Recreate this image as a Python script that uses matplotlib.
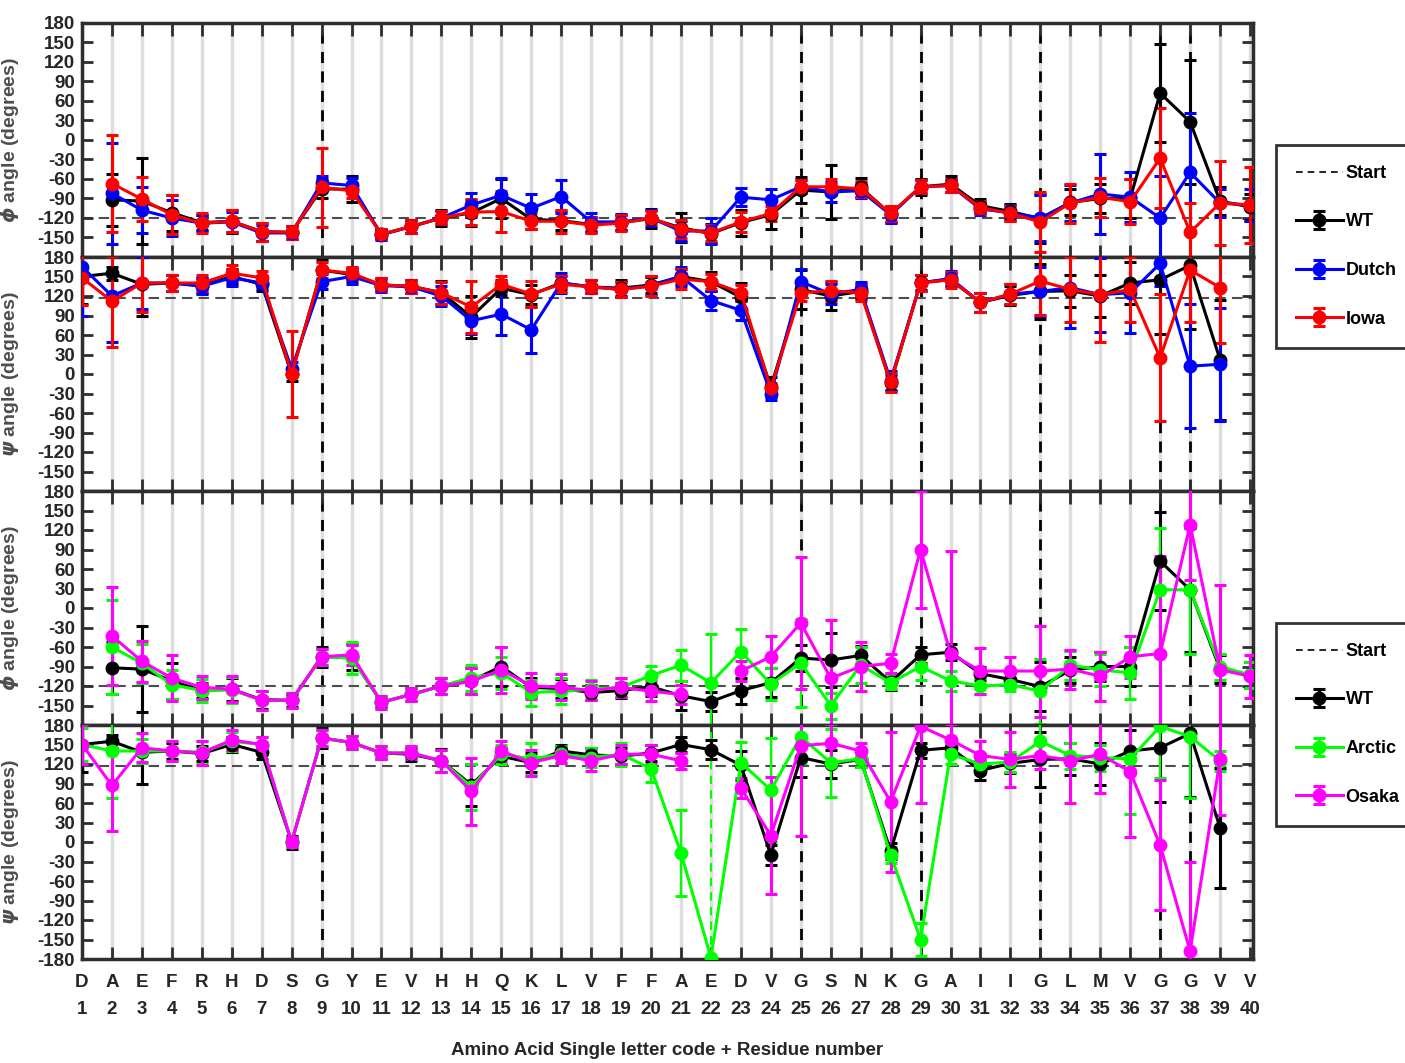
import numpy as np
import matplotlib.pyplot as plt
from matplotlib.lines import Line2D

plt.rcParams['font.family'] = ['Liberation Sans', 'DejaVu Sans']
plt.rcParams['font.weight'] = 'bold'

nan = np.nan

# residue axis
residues = list(range(1, 41))
letters = list("DAEFRHDSGYEVHHQKLVFFAEDVGSNKGAIIGLMVGGVV")
tick_labels = [f"{c}\n{n}" for c, n in zip(letters, residues)]
gly_res = [n for c, n in zip(letters, residues) if c == "G"]

phi_start = -120
psi_start = 117

# WT
wt_phi = [nan, -92, -94, -112, -127, -125, -141, -142, -75, -76, -145, -133, -120, -112, -90, -122, -124, -130, -127, -121,
          -135, -144, -127, -115, -77, -80, -73, -114, -72, -68, -101, -110, -121, -96, -90, -90, 72, 28, -94, -103]
wt_phi_err = [nan, 40, 66, 28, 12, 18, 14, 10, 15, 20, 8, 10, 12, 20, 30, 15, 15, 12, 12, 15,
              22, 15, 20, 22, 20, 42, 15, 12, 12, 12, 10, 12, 38, 20, 22, 30, 75, 95, 22, 20]
wt_psi = [150, 155, 138, 140, 136, 150, 138, 0, 160, 153, 137, 135, 125, 88, 132, 122, 140, 134, 132, 137,
          150, 142, 118, -20, 130, 120, 127, -14, 141, 145, 110, 121, 127, 128, 120, 140, 145, 167, 22, nan]
wt_psi_err = [42, 10, 48, 12, 12, 12, 10, 10, 15, 10, 10, 10, 18, 32, 12, 15, 10, 10, 12, 12,
              12, 15, 22, 15, 30, 22, 12, 12, 12, 10, 15, 15, 42, 25, 32, 32, 83, 98, 92, nan]

# Dutch
dutch_phi = [nan, -82, -108, -120, -128, -126, -143, -143, -66, -70, -146, -133, -120, -100, -85, -105, -87, -126, -126, -120,
             -140, -140, -88, -92, -72, -80, -78, -115, -72, -70, -106, -112, -120, -97, -83, -88, -120, -50, -97, -100]
dutch_phi_err = [nan, 78, 35, 27, 12, 15, 12, 10, 10, 12, 8, 10, 10, 18, 27, 22, 25, 14, 12, 12,
                 15, 20, 14, 16, 10, 15, 12, 12, 10, 10, 10, 12, 36, 28, 62, 38, 65, 92, 22, 25]
dutch_psi = [165, 120, 140, 140, 135, 148, 140, 8, 142, 150, 136, 134, 120, 82, 92, 68, 140, 134, 130, 136,
             150, 113, 98, -30, 142, 123, 130, -10, 140, 147, 110, 123, 127, 133, 122, 125, 170, 12, 15, nan]
dutch_psi_err = [75, 70, 40, 12, 12, 12, 10, 10, 12, 12, 10, 10, 15, 20, 32, 35, 15, 10, 12, 15,
                 15, 15, 15, 10, 20, 15, 12, 15, 12, 12, 15, 15, 38, 62, 57, 62, 35, 95, 87, nan]

# Iowa
iowa_phi = [nan, -67, -91, -115, -128, -125, -141, -142, -73, -78, -145, -133, -120, -111, -110, -125, -125, -131, -128, -120,
            -137, -143, -126, -113, -72, -72, -75, -113, -72, -70, -104, -113, -126, -97, -88, -95, -28, -142, -97, -100]
iowa_phi_err = [nan, 75, 34, 30, 15, 17, 14, 10, 61, 12, 8, 10, 10, 20, 32, 12, 18, 12, 12, 10,
                14, 12, 15, 12, 10, 12, 12, 12, 10, 10, 10, 12, 46, 30, 30, 35, 77, 45, 65, 58]
iowa_psi = [148, 112, 140, 140, 140, 155, 148, 0, 160, 155, 137, 135, 125, 103, 138, 123, 138, 134, 130, 135,
            146, 142, 125, -22, 125, 128, 125, -13, 140, 145, 110, 123, 143, 130, 122, 130, 25, 160, 133, nan]
iowa_psi_err = [42, 70, 45, 12, 12, 12, 10, 66, 12, 10, 10, 10, 17, 40, 12, 20, 12, 10, 12, 15,
                15, 12, 12, 8, 12, 15, 12, 15, 12, 12, 15, 15, 52, 50, 72, 50, 98, 80, 85, nan]

# Arctic
arctic_phi = [nan, -60, -85, -118, -127, -126, -142, -142, -75, -77, -145, -133, -120, -107, -100, -130, -128, -125, -122, -104,
              -88, -115, -67, -117, -85, -150, -88, -115, -90, -112, -120, -118, -128, -88, -95, -100, 28, 28, -90, -103]
arctic_phi_err = [nan, 73, 30, 22, 18, 20, 15, 12, 12, 24, 10, 10, 12, 20, 25, 20, 20, 15, 15, 15,
                  24, 75, 35, 25, 68, 20, 28, 10, 20, 15, 12, 10, 50, 22, 25, 40, 95, 98, 20, 20]
arctic_psi = [150, 140, 140, 140, 138, 155, 150, 0, 160, 153, 137, 137, 125, 85, 135, 128, 135, 130, 135, 113,
              -17, -178, 122, 80, 162, 122, 128, -20, -150, 135, 120, 123, 155, 133, 130, 128, 178, 162, 125, nan]
arctic_psi_err = [25, 73, 18, 15, 18, 15, 12, 8, 12, 10, 10, 10, 17, 35, 15, 25, 12, 15, 18, 20,
                  66, 0, 32, 80, 40, 52, 12, 12, 25, 15, 15, 15, 30, 20, 20, 85, 80, 95, 15, nan]
arctic_wrap_res = [22]

# Osaka
osaka_phi = [nan, -43, -82, -108, -122, -125, -142, -142, -75, -72, -145, -133, -120, -113, -95, -120, -122, -127, -122, -128,
             -133, nan, -97, -75, -23, -108, -90, -85, 90, -70, -97, -97, -97, -94, -105, -75, -70, 128, -95, -105]
osaka_phi_err = [nan, 75, 32, 35, 18, 20, 15, 12, 12, 15, 10, 10, 12, 20, 35, 20, 20, 15, 15, 15,
                 15, nan, 15, 32, 102, 90, 37, 15, 90, 158, 35, 22, 70, 30, 38, 32, 150, 85, 130, 33]
osaka_psi = [150, 87, 145, 140, 137, 157, 150, 0, 160, 153, 137, 137, 125, 78, 140, 122, 133, 125, 135, 135,
             125, nan, 83, 10, 148, 152, 140, 62, 178, 157, 133, 127, 133, 125, 135, 108, -5, -168, 127, nan]
osaka_psi_err = [30, 70, 22, 15, 18, 15, 12, 8, 12, 10, 10, 10, 17, 52, 15, 20, 12, 15, 15, 15,
                 12, nan, 15, 90, 138, 30, 12, 108, 118, 25, 22, 42, 20, 65, 60, 100, 100, 138, 86, nan]

panels = [
    ("phi", phi_start, [("WT", "black", wt_phi, wt_phi_err), ("Dutch", "blue", dutch_phi, dutch_phi_err),
                        ("Iowa", "red", iowa_phi, iowa_phi_err)]),
    ("psi", psi_start, [("WT", "black", wt_psi, wt_psi_err), ("Dutch", "blue", dutch_psi, dutch_psi_err),
                        ("Iowa", "red", iowa_psi, iowa_psi_err)]),
    ("phi", phi_start, [("WT", "black", wt_phi, wt_phi_err), ("Arctic", "#00ff00", arctic_phi, arctic_phi_err),
                        ("Osaka", "magenta", osaka_phi, osaka_phi_err)]),
    ("psi", psi_start, [("WT", "black", wt_psi, wt_psi_err), ("Arctic", "#00ff00", arctic_psi, arctic_psi_err),
                        ("Osaka", "magenta", osaka_psi, osaka_psi_err)]),
]

W, H = 1405, 1063
fig = plt.figure(figsize=(W / 100, H / 100), dpi=100)
spine_c = "0.18"
tops = [23, 257, 491, 725]
ph = 234
for i, (kind, start, series) in enumerate(panels):
    ax = fig.add_axes([82 / W, 1 - (tops[i] + ph) / H, 1171 / W, ph / H])
    for r in residues:
        ax.axvline(r, color="#dedede", lw=2.5, zorder=0)
    for g in gly_res:
        ax.axvline(g, color="black", lw=2, ls=(0, (4, 3)), zorder=1)
    ax.axhline(start, color="0.3", lw=1.5, ls=(0, (5, 3)), zorder=1)
    if i == 3:
        for r in arctic_wrap_res:
            ax.axvline(r, color="#00ff00", lw=1.5, ls=(0, (4, 3)), zorder=2)
    handles = [Line2D([], [], color="black", lw=1.2, ls=(0, (4, 3)))]
    for name, col, vals, errs in series:
        thin = name == "Arctic"
        h = ax.errorbar(residues, vals, yerr=errs, color=col, lw=2.2, marker="o", ms=9,
                        elinewidth=1.6 if thin else 2.2, capsize=4, capthick=2.2, zorder=3)
        handles.append(h)
    ax.set_xlim(1, 40.1)
    ax.set_ylim(-180, 180)
    ticks = list(range(-180, 181, 30))
    ax.set_yticks(ticks)
    ax.set_yticklabels([str(t) if (t > -180 or i == 3) else "" for t in ticks])
    ax.set_xticks(residues)
    if i == 3:
        ax.set_xticklabels(tick_labels, linespacing=1.75)
        ax.set_xlabel("Amino Acid Single letter code + Residue number", fontsize=13.5, fontweight="bold",
                      color="0.15", labelpad=17)
    else:
        ax.set_xticklabels([])
    ax.tick_params(axis="both", direction="in", top=True, right=True, width=2, color=spine_c,
                   labelsize=13.5, labelcolor="0.15")
    ax.tick_params(axis="x", length=9, pad=11)
    ax.tick_params(axis="y", length=8, pad=5)
    for s in ax.spines.values():
        s.set_linewidth(2.5)
        s.set_color(spine_c)
    sym = r"$\phi$" if kind == "phi" else r"$\psi$"
    ax.set_ylabel(sym + " angle (degrees)", fontsize=14, fontweight="bold", color="0.3")
    ax.yaxis.set_label_coords(-0.052, 0.5)

    if i in (0, 2):
        labels = ["Start"] + [s[0] for s in series]
        lg = ax.legend(handles, labels, loc="upper left",
                       bbox_to_anchor=(1276 / W, 1 - (145 if i == 0 else 623) / H),
                       bbox_transform=fig.transFigure, fontsize=13, frameon=True, fancybox=False,
                       edgecolor="black", borderpad=1.1, labelspacing=1.75, handlelength=2.6,
                       handletextpad=0.15, borderaxespad=0)
        lg.get_frame().set_linewidth(2)
        for t in lg.get_texts():
            t.set_fontweight("bold")

fig.savefig("out.png", dpi=100)
